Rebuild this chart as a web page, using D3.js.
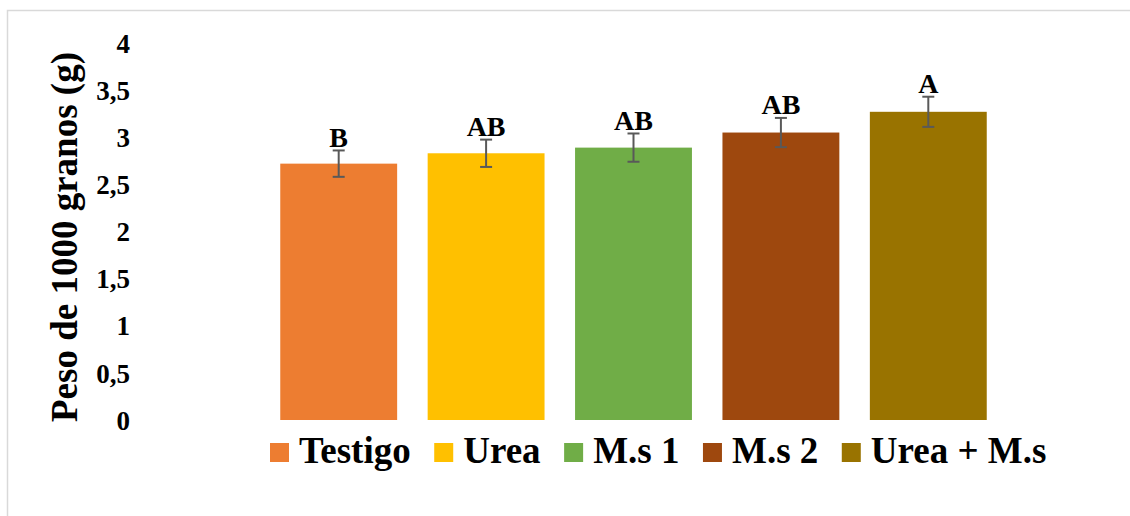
<!DOCTYPE html>
<html>
<head>
<meta charset="utf-8">
<script src="https://cdn.jsdelivr.net/npm/d3@7"></script>
<style>
  html, body { margin: 0; padding: 0; background: #fff; }
  svg { display: block; }
  text { font-family: "Liberation Serif", "Times New Roman", serif; font-weight: bold; fill: #000; }
</style>
</head>
<body>
<svg id="chart" width="1130" height="516"></svg>
<script>
const categories = ["Testigo", "Urea", "M.s 1", "M.s 2", "Urea + M.s"];
const values = [2.72, 2.83, 2.89, 3.05, 3.27];
const errors = [0.14, 0.145, 0.15, 0.155, 0.16];
const letters = ["B", "AB", "AB", "AB", "A"];
const colors = ["#ED7D31", "#FFC000", "#70AD47", "#9E480E", "#997300"];
const yTicks = [0, 0.5, 1, 1.5, 2, 2.5, 3, 3.5, 4];
const yTitle = "Peso de 1000 granos (g)";

const svg = d3.select("#chart");

// chart frame
svg.append("rect")
  .attr("x", 7.5).attr("y", 10.5)
  .attr("width", 1200).attr("height", 600)
  .attr("fill", "none").attr("stroke", "#d9d9d9").attr("stroke-width", 1.5);

const x = d3.scaleBand().domain(categories).range([265, 1002]).paddingInner(0.207).paddingOuter(0.1035);
const y = d3.scaleLinear().domain([0, 4]).range([420, 43]);

// y axis (labels only)
const yAxis = d3.axisLeft(y).tickValues(yTicks).tickSize(0).tickPadding(0)
  .tickFormat(d => String(d).replace(".", ","));
const yg = svg.append("g").attr("transform", "translate(130,0)").call(yAxis);
yg.select(".domain").remove();
yg.selectAll("text").attr("font-size", 27).attr("dy", "0.34em");

// y title
svg.append("text")
  .attr("transform", "translate(77,237) rotate(-90)")
  .attr("text-anchor", "middle")
  .attr("font-size", 37)
  .text(yTitle);

// bars
svg.append("g").selectAll("rect").data(categories).join("rect")
  .attr("x", d => x(d))
  .attr("width", x.bandwidth())
  .attr("y", (d, i) => y(values[i]))
  .attr("height", (d, i) => y(0) - y(values[i]))
  .attr("fill", (d, i) => colors[i]);

// error bars
const eg = svg.append("g").attr("stroke", "#595959").attr("stroke-width", 2).attr("fill", "none");
categories.forEach((c, i) => {
  const cx = x(c) + x.bandwidth() / 2;
  const top = y(values[i] + errors[i]);
  const bot = y(values[i] - errors[i]);
  eg.append("line").attr("x1", cx).attr("x2", cx).attr("y1", top).attr("y2", bot);
  eg.append("line").attr("x1", cx - 6).attr("x2", cx + 6).attr("y1", top).attr("y2", top);
  eg.append("line").attr("x1", cx - 6).attr("x2", cx + 6).attr("y1", bot).attr("y2", bot);
});

// letters
svg.append("g").selectAll("text").data(categories).join("text")
  .attr("x", d => x(d) + x.bandwidth() / 2)
  .attr("y", (d, i) => y(values[i] + errors[i]) - 3.5)
  .attr("text-anchor", "middle")
  .attr("font-size", 28)
  .text((d, i) => letters[i]);

// legend
const lg = svg.append("g");
let lx = 270;
categories.forEach((c, i) => {
  lg.append("rect").attr("x", lx).attr("y", 443).attr("width", 19).attr("height", 19).attr("fill", colors[i]);
  const t = lg.append("text").attr("x", lx + 29).attr("y", 463).attr("font-size", 37).text(c);
  lx += 29 + t.node().getComputedTextLength() + 23.5;
});
</script>
</body>
</html>
